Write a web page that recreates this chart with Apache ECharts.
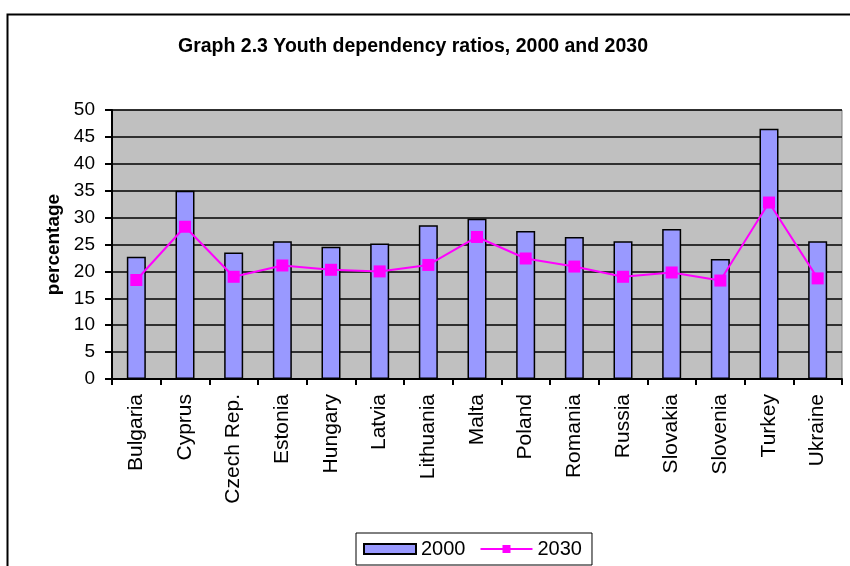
<!DOCTYPE html>
<html>
<head>
<meta charset="UTF-8">
<title>Youth dependency ratios</title>
<script src="https://cdn.jsdelivr.net/npm/echarts@6/dist/echarts.min.js"></script>
<style>
  html, body { margin: 0; padding: 0; background: #fff; }
  #chart { width: 850px; height: 566px; }
</style>
</head>
<body>
<div id="chart"></div>
<script>
// data
var countries = ['Bulgaria', 'Cyprus', 'Czech Rep.', 'Estonia', 'Hungary', 'Latvia', 'Lithuania',
  'Malta', 'Poland', 'Romania', 'Russia', 'Slovakia', 'Slovenia', 'Turkey', 'Ukraine'];
var ratio2000 = [22.7, 35.0, 23.5, 25.6, 24.6, 25.2, 28.6, 29.8, 27.5, 26.4, 25.6, 27.9, 22.3, 46.5, 25.6];
var ratio2030 = [18.4, 28.3, 19.0, 21.1, 20.3, 20.0, 21.2, 26.4, 22.4, 20.9, 19.0, 19.8, 18.3, 32.8, 18.7];

var font = 'Arial, "Liberation Sans", sans-serif';
var chart = echarts.init(document.getElementById('chart'));

chart.setOption({
  animation: false,
  backgroundColor: '#fff',
  textStyle: { fontFamily: font, color: '#000' },
  title: {
    text: 'Graph 2.3 Youth dependency ratios, 2000 and 2030',
    left: 173,
    top: 32,
    textStyle: { fontFamily: font, fontSize: 19.5, fontWeight: 'bold', color: '#000' }
  },
  graphic: [{
    type: 'rect',
    left: 5, top: 12,
    shape: { width: 900, height: 600 },
    style: { fill: 'none', stroke: '#000', lineWidth: 2 },
    silent: true
  }],
  legend: {
    left: 356,
    top: 533,
    padding: [6, 10, 6, 7],
    borderColor: '#000',
    borderWidth: 1,
    itemWidth: 52,
    itemHeight: 10,
    itemGap: 14,
    textStyle: { fontFamily: font, fontSize: 20, color: '#000' },
    data: [{ name: '2000', icon: 'rect' }, { name: '2030' }]
  },
  grid: {
    left: 112, right: 8, top: 110, bottom: 187,
    show: true,
    backgroundColor: '#C0C0C0',
    borderColor: '#808080',
    borderWidth: 1
  },
  xAxis: {
    type: 'category',
    data: countries,
    boundaryGap: true,
    axisLine: { lineStyle: { color: '#000', width: 2 } },
    axisTick: { show: true, length: 6, lineStyle: { color: '#000', width: 2 } },
    axisLabel: { rotate: 90, fontSize: 21, color: '#000', margin: 15, fontFamily: font }
  },
  yAxis: {
    type: 'value',
    min: 0, max: 50, interval: 5,
    name: 'percentage',
    nameLocation: 'middle',
    nameGap: 47,
    nameRotate: 90,
    nameTextStyle: { fontFamily: font, fontSize: 19, fontWeight: 'bold', color: '#000' },
    axisLine: { show: true, lineStyle: { color: '#000', width: 2 } },
    axisTick: { show: true, length: 7, lineStyle: { color: '#000', width: 2 } },
    axisLabel: { fontSize: 19, color: '#000', margin: 17, fontFamily: font },
    splitLine: { lineStyle: { color: '#000', width: 1.5 } }
  },
  series: [{
    name: '2000',
    type: 'bar',
    data: ratio2000,
    barWidth: 19,
    itemStyle: { color: '#9999FF', borderColor: '#000', borderWidth: 1.5 }
  }, {
    name: '2030',
    type: 'line',
    data: ratio2030,
    symbol: 'rect',
    symbolSize: 12,
    lineStyle: { color: '#FF00FF', width: 2 },
    itemStyle: { color: '#FF00FF' },
    z: 3
  }]
});
</script>
</body>
</html>
